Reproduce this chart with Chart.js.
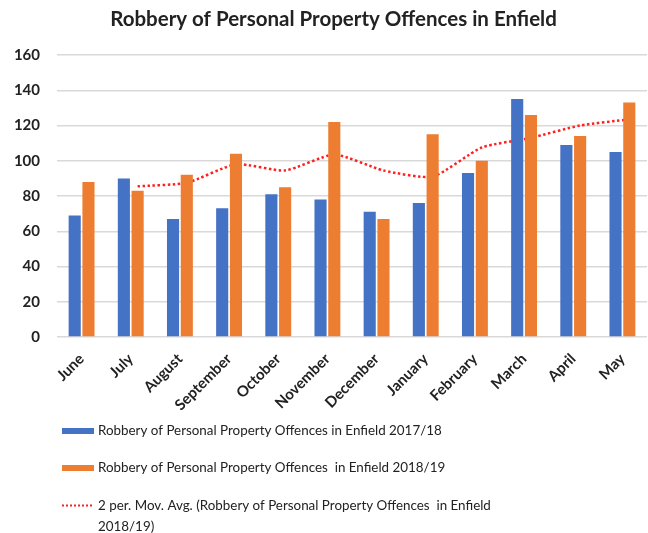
<!DOCTYPE html>
<html lang="en">
<head>
<meta charset="UTF-8">
<title>Robbery of Personal Property Offences in Enfield</title>
<script src="https://cdn.jsdelivr.net/npm/chart.js"></script>
<style>
    * { margin: 0; padding: 0; box-sizing: border-box; }
    body { background: #fff; }
    #wrap { width: 648px; height: 533px; }
</style>
</head>
<body>
<div id="wrap"><canvas id="robberyChart" width="648" height="533"></canvas></div>
<script>
    // Data
    const months = ['June', 'July', 'August', 'September', 'October', 'November',
                    'December', 'January', 'February', 'March', 'April', 'May'];
    const offences2017 = [69, 90, 67, 73, 81, 78, 71, 76, 93, 135, 109, 105];
    const offences2018 = [88, 83, 92, 104, 85, 122, 67, 115, 100, 126, 114, 133];
    const movingAvg = [null, 85.5, 87.5, 98, 94.5, 103.5, 94.5, 91, 107.5, 113, 120, 123.5];
    const yTicks = [0, 20, 40, 60, 80, 100, 120, 140, 160];

    const chartTitle = 'Robbery of Personal Property Offences in Enfield';
    const legendLabels = [
        ['Robbery of Personal Property Offences in Enfield 2017/18'],
        ['Robbery of Personal Property Offences  in Enfield 2018/19'],
        ['2 per. Mov. Avg. (Robbery of Personal Property Offences  in Enfield', '2018/19)']
    ];

    const textColor = '#222';
    const fontFamily = 'Lato, "Noto Sans", sans-serif';

    // title sits a little right of the canvas centre, like the Excel original
    const topTitle = {
        id: 'topTitle',
        afterDraw(chart) {
            const ctx = chart.ctx;
            ctx.save();
            ctx.font = 'bold 20.5px ' + fontFamily;
            ctx.fillStyle = textColor;
            ctx.textAlign = 'center';
            ctx.textBaseline = 'middle';
            ctx.fillText(chartTitle, chart.width / 2 + 9.5, 19);
            ctx.restore();
        }
    };

    // the moving average is a trendline of the 2018/19 bars, so draw it
    // over the orange bar centres instead of the category centres
    const trendShift = {
        id: 'trendShift',
        beforeDatasetDraw(chart, args) {
            if (args.index !== 2) return;
            const bar = chart.getDatasetMeta(1).data[0];
            const dx = bar.x - chart.scales.x.getPixelForValue(0);
            chart.ctx.save();
            chart.ctx.translate(dx, 0);
        },
        afterDatasetDraw(chart, args) {
            if (args.index === 2) chart.ctx.restore();
        }
    };

    // simple legend drawn below the axis, one item per row
    const rowLegend = {
        id: 'rowLegend',
        afterDraw(chart) {
            const ctx = chart.ctx;
            const xAxis = chart.scales.x;
            const sets = chart.data.datasets;
            const rowsY = [xAxis.bottom + 14, xAxis.bottom + 51, xAxis.bottom + 88.5];
            ctx.save();
            ctx.font = '13.4px ' + fontFamily;
            ctx.textBaseline = 'middle';
            sets.forEach((ds, i) => {
                const y = rowsY[i];
                if (ds.type === 'line') {
                    ctx.strokeStyle = ds.borderColor;
                    ctx.lineWidth = 2;
                    ctx.setLineDash([2, 2]);
                    ctx.beginPath();
                    ctx.moveTo(62, y);
                    ctx.lineTo(94, y);
                    ctx.stroke();
                    ctx.setLineDash([]);
                } else {
                    ctx.fillStyle = ds.backgroundColor;
                    ctx.fillRect(62, y - 3, 32, 6);
                }
                ctx.fillStyle = textColor;
                legendLabels[i].forEach((line, k) => {
                    ctx.fillText(line, 98, y + k * 21);
                });
            });
            ctx.restore();
        }
    };

    const ctx = document.getElementById('robberyChart').getContext('2d');
    new Chart(ctx, {
        type: 'bar',
        data: {
            labels: months,
            datasets: [{
                label: legendLabels[0].join(' '),
                data: offences2017,
                backgroundColor: '#4472c4',
                categoryPercentage: 0.56,
                barPercentage: 0.88
            }, {
                label: legendLabels[1].join(' '),
                data: offences2018,
                backgroundColor: '#ed7d31',
                categoryPercentage: 0.56,
                barPercentage: 0.88
            }, {
                type: 'line',
                label: legendLabels[2].join(' '),
                data: movingAvg,
                borderColor: '#ff2020',
                borderWidth: 2.5,
                borderDash: [2.5, 2.5],
                pointRadius: 0,
                tension: 0.2,
                fill: false
            }]
        },
        options: {
            responsive: false,
            animation: false,
            devicePixelRatio: 1,
            layout: { padding: { left: 0, right: 1, top: 55, bottom: 116 } },
            plugins: {
                legend: { display: false },
                tooltip: { enabled: false },
                title: { display: false }
            },
            scales: {
                x: {
                    grid: { display: false },
                    border: { display: false },
                    ticks: {
                        color: textColor,
                        font: { family: fontFamily, size: 15, weight: 'bold' },
                        maxRotation: 45,
                        minRotation: 45,
                        autoSkip: false,
                        padding: 5
                    },
                    afterFit(scale) { scale.height = 80; }
                },
                y: {
                    min: 0,
                    max: 160,
                    afterBuildTicks(scale) { scale.ticks = yTicks.map(v => ({ value: v })); },
                    grid: { color: '#d9d9d9', lineWidth: 1.5, drawTicks: false, tickLength: 0 },
                    border: { display: false },
                    ticks: {
                        color: textColor,
                        font: { family: fontFamily, size: 15, weight: 'bold' },
                        padding: 17
                    },
                    afterFit(scale) { scale.width = 57; }
                }
            }
        },
        plugins: [topTitle, trendShift, rowLegend]
    });
</script>
</body>
</html>
